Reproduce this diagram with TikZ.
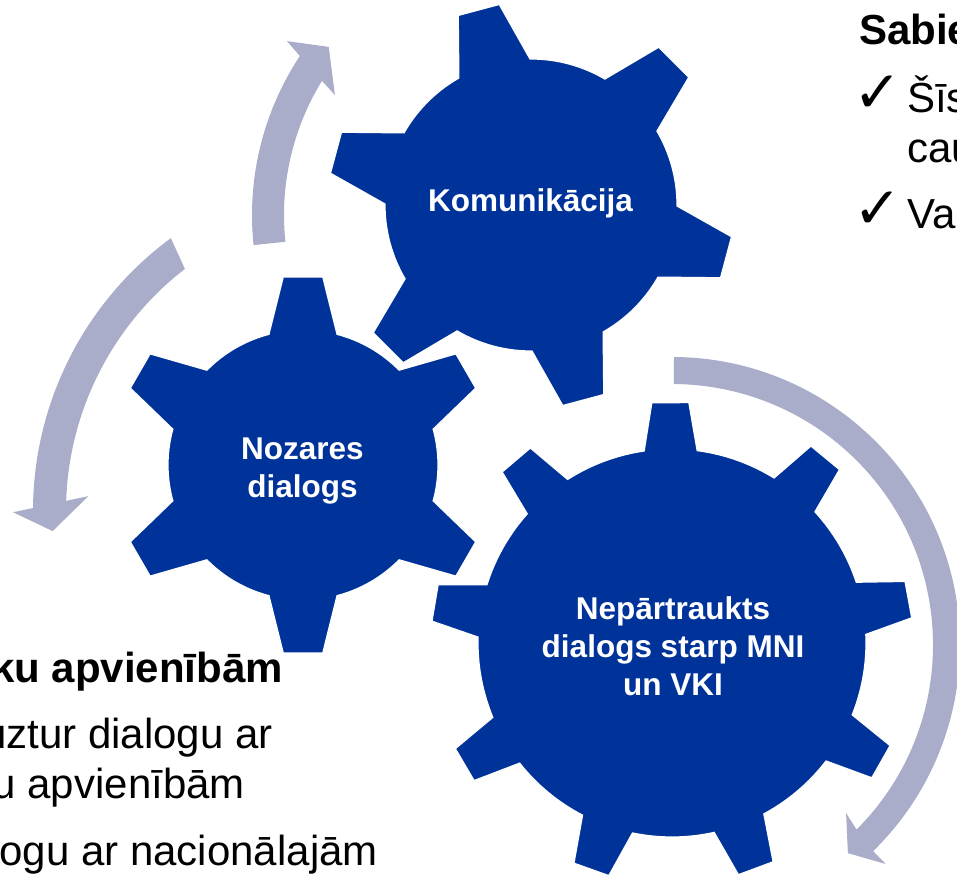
\documentclass[tikz,border=0pt]{standalone}
\usepackage{fontspec}
\setmainfont{Liberation Sans}
\newfontfamily\dejavu{DejaVu Sans}
\definecolor{gearblue}{RGB}{0,51,153}
\definecolor{arrowgray}{RGB}{170,173,201}
\tikzset{
  gearshape/.style={fill=gearblue, draw=white, line width=1.2pt},
  arrowshape/.style={fill=arrowgray},
  gearlabel/.style={text=white, font=\bfseries\fontsize{31.5}{38}\selectfont, anchor=base, inner sep=0pt},
  headtext/.style={font=\bfseries\fontsize{42}{50}\selectfont, inner sep=0pt},
  bodytext/.style={font=\fontsize{42}{50}\selectfont, inner sep=0pt},
  tick/.style={font=\dejavu\fontsize{58}{60}\selectfont, inner sep=0pt, anchor=base west}
}
% cx, cy, teeth, first angle, body radius, outer radius, base half-angle, tip half-angle
\newcommand\drawgear[8]{%
  \begin{scope}[shift={(#1,#2)}]
    \path[gearshape] ({#4-#7}:#5)
      \foreach \k in {1,...,#3} {
        -- ({#4+(\k-1)*360/#3-#8}:#6) -- ({#4+(\k-1)*360/#3+#8}:#6)
        -- ({#4+(\k-1)*360/#3+#7}:#5)
        arc[start angle={#4+(\k-1)*360/#3+#7}, end angle={#4+\k*360/#3-#7}, radius=#5]
      } -- cycle;
  \end{scope}}
\begin{document}
\begin{tikzpicture}[x=1pt,y=1pt]
\useasboundingbox (0,0) rectangle (957,876);
\clip (0,0) rectangle (957,876);
\fill[white] (0,0) rectangle (957,876);

% circular arrows
\begin{scope}[shift={(540,661)}]
  \path[arrowshape] (186:288) arc[start angle=186, end angle=146.5, radius=288]
    -- (145.5:307) -- (141.5:270) -- (149.7:237.5) -- (148.4:256)
    arc[start angle=148.4, end angle=186, radius=256] -- cycle;
\end{scope}
\begin{scope}[shift={(372,365)}]
  \path[arrowshape] (126.4:339) arc[start angle=126.4, end angle=179.5, radius=339]
    -- (180.2:359) -- (183.6:320) -- (177:284) -- (178.1:306)
    arc[start angle=178.1, end angle=127.7, radius=306] -- cycle;
\end{scope}
\begin{scope}[shift={(672,231)}]
  \path[arrowshape] (89.6:288) arc[start angle=89.6, end angle=-45.7, radius=288]
    -- (-45.7:306) -- (-49.8:272.5) -- (-44:242) -- (-45:261)
    arc[start angle=-45, end angle=89.6, radius=261] -- cycle;
\end{scope}

% gears
\drawgear{531}{671}{6}{105}{146}{203}{14.6}{6.0}
\drawgear{303}{411}{6}{30}{135}{189}{14.6}{6.0}
\drawgear{672}{233}{9}{90.4}{194}{241}{7.85}{4.4}

% gear labels
\node[gearlabel] (kom) at (530.5,664) {Komunikācija};
\node[gearlabel] (noz1) at (302.5,417) {Nozares};
\node[gearlabel] (noz2) at (302.5,379) {dialogs};
\node[gearlabel] (nep1) at (673,257) {Nepārtraukts};
\node[gearlabel] (nep2) at (673,219) {dialogs starp MNI};
\node[gearlabel] (nep3) at (673,181) {un VKI};

% right text block
\node[headtext, anchor=base west] (rhead) at (859,831) {Sabie};
\node[tick] (rtick1) at (853,763) {✓};
\node[bodytext, anchor=base west] (rl1) at (907,763) {Šīs};
\node[bodytext, anchor=base west] (rl2) at (907,713) {cau};
\node[tick] (rtick2) at (853,647) {✓};
\node[bodytext, anchor=base west] (rl3) at (907,647) {Va};

% left text block
\node[headtext, anchor=base east] (lhead) at (283,194) {ku apvienībām};
\node[bodytext, anchor=base east] (ll1) at (273,128) {uztur dialogu ar};
\node[bodytext, anchor=base east] (ll2) at (245,78) {u apvienībām};
\node[bodytext, anchor=base east] (ll3) at (378,11) {ogu ar nacionālajām};
\end{tikzpicture}
\end{document}
